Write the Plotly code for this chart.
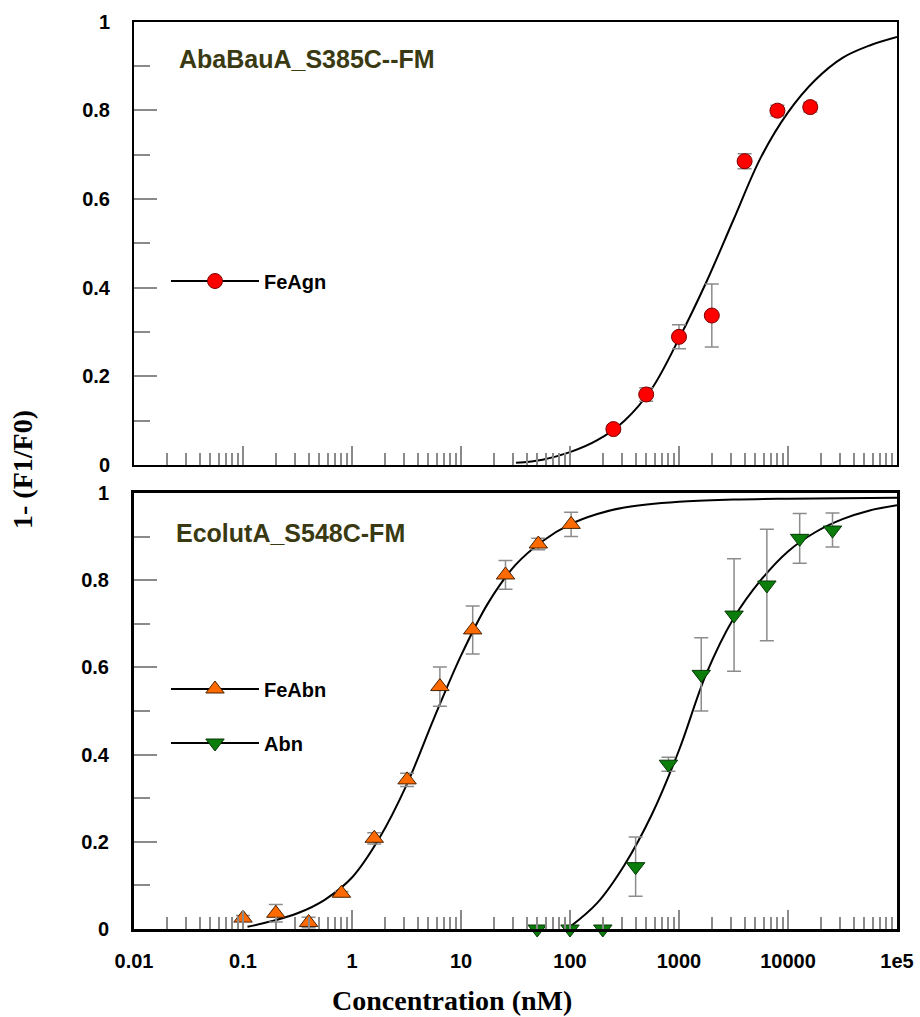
import plotly.graph_objects as go

# ---- FeAgn binding to AbaBauA_S385C--FM (upper panel) ----
agn_conc = [250, 500, 1000, 2000, 4000, 8000, 16000]
agn_resp = [0.081, 0.159, 0.289, 0.337, 0.685, 0.799, 0.807]
agn_err = [0.008, 0.015, 0.027, 0.071, 0.017, 0.012, 0.011]
agn_fit_x = [32, 56, 100, 178, 316, 562, 1000, 1778, 3162, 5623, 10000, 17783,
             31623, 56234, 100000]
agn_fit_y = [0.005, 0.012, 0.029, 0.056, 0.100, 0.172, 0.285, 0.412, 0.553,
             0.693, 0.795, 0.868, 0.918, 0.946, 0.965]

# ---- FeAbn / Abn binding to EcolutA_S548C-FM (lower panel) ----
abn_fe_conc = [0.1, 0.2, 0.4, 0.8, 1.6, 3.2, 6.4, 12.8, 25.6, 51.2, 102.4]
abn_fe_resp = [0.025, 0.036, 0.015, 0.082, 0.208, 0.342, 0.556, 0.686, 0.812, 0.883, 0.928]
abn_fe_err = [0.006, 0.020, 0.012, 0.004, 0.013, 0.015, 0.045, 0.055, 0.033, 0.013, 0.028]
abn_fe_fit_x = [0.11, 0.178, 0.316, 0.562, 1, 1.778, 3.162, 5.623, 10, 17.78,
                31.62, 56.23, 100, 178, 316, 1000, 3162, 10000, 100000]
abn_fe_fit_y = [0.005, 0.017, 0.036, 0.067, 0.118, 0.208, 0.330, 0.482, 0.627,
                0.748, 0.835, 0.890, 0.928, 0.952, 0.967, 0.980, 0.985, 0.987, 0.989]

abn_conc = [50, 100, 200, 400, 800, 1600, 3200, 6400, 12800, 25600]
abn_resp = [0.0, 0.0, 0.0, 0.143, 0.378, 0.584, 0.720, 0.789, 0.896, 0.915]
abn_err = [0, 0, 0, 0.068, 0.016, 0.084, 0.129, 0.128, 0.057, 0.039]
abn_fit_x = [100, 178, 316, 562, 1000, 1778, 3162, 5623, 10000, 17783, 31623,
             56234, 100000]
abn_fit_y = [0.005, 0.060, 0.147, 0.262, 0.410, 0.585, 0.712, 0.800, 0.866,
             0.910, 0.940, 0.960, 0.972]

x_tick_vals = [0.01, 0.1, 1, 10, 100, 1000, 10000, 100000]
x_tick_text = ["0.01", "0.1", "1", "10", "100", "1000", "10000", "1e5"]
y_tick_vals = [0, 0.2, 0.4, 0.6, 0.8, 1]
y_tick_text = ["0", "0.2", "0.4", "0.6", "0.8", "1"]

W, H = 920, 1017


def px_x(p):
    return p / W


def px_y(p):
    return 1 - p / H


SANS = "Liberation Sans, Arial, sans-serif"
SERIF = "Liberation Serif, Times New Roman, serif"
TICK_GRAY = "#8a8a8a"
ERR_GRAY = "#8c8c8c"

minor_x = [m * 10 ** e for e in range(-2, 5) for m in range(2, 10)]
minor_y = [0.1, 0.3, 0.5, 0.7, 0.9]

fig = go.Figure()


def err(vals):
    return dict(type="data", array=vals, visible=True, color=ERR_GRAY,
                thickness=1.5, width=7)


FIT_LINE = dict(color="black", width=2, shape="spline", smoothing=1.0)
RED_DOT = dict(symbol="circle", size=15, color="#ff0000",
               line=dict(color="#7a0000", width=1))
ORANGE_TRI = dict(symbol="triangle-up", size=16, color="#ff6a00",
                  line=dict(color="#4a2200", width=1))
GREEN_TRI = dict(symbol="triangle-down", size=16, color="#0a7d0a",
                 line=dict(color="#063806", width=1))

# upper panel
fig.add_trace(go.Scatter(x=agn_fit_x, y=agn_fit_y, mode="lines", line=FIT_LINE,
                         xaxis="x", yaxis="y", showlegend=False, hoverinfo="skip"))
fig.add_trace(go.Scatter(x=agn_conc, y=agn_resp, mode="markers", error_y=err(agn_err),
                         marker=RED_DOT, xaxis="x", yaxis="y", showlegend=False,
                         cliponaxis=False))
fig.add_trace(go.Scatter(x=[None], y=[None], mode="lines+markers", name="FeAgn",
                         line=dict(color="black", width=2), marker=RED_DOT,
                         xaxis="x", yaxis="y", legend="legend"))

# lower panel
fig.add_trace(go.Scatter(x=abn_fe_fit_x, y=abn_fe_fit_y, mode="lines", line=FIT_LINE,
                         xaxis="x2", yaxis="y2", showlegend=False, hoverinfo="skip"))
fig.add_trace(go.Scatter(x=abn_fit_x, y=abn_fit_y, mode="lines", line=FIT_LINE,
                         xaxis="x2", yaxis="y2", showlegend=False, hoverinfo="skip"))
fig.add_trace(go.Scatter(x=abn_fe_conc, y=abn_fe_resp, mode="markers", error_y=err(abn_fe_err),
                         marker=ORANGE_TRI, xaxis="x2", yaxis="y2", showlegend=False,
                         cliponaxis=False))
fig.add_trace(go.Scatter(x=abn_conc, y=abn_resp, mode="markers", error_y=err(abn_err),
                         marker=GREEN_TRI, xaxis="x2", yaxis="y2", showlegend=False,
                         cliponaxis=False))
fig.add_trace(go.Scatter(x=[None], y=[None], mode="lines+markers", name="FeAbn",
                         line=dict(color="black", width=2), legendgroup="a",
                         marker=ORANGE_TRI, xaxis="x2", yaxis="y2", legend="legend2"))
fig.add_trace(go.Scatter(x=[None], y=[None], mode="lines+markers", name="Abn",
                         line=dict(color="black", width=2), legendgroup="b",
                         marker=GREEN_TRI, xaxis="x2", yaxis="y2", legend="legend2"))


def xaxis(domain_y_anchor, show_labels, lw):
    return dict(type="log", range=[-2, 5], domain=[px_x(134), px_x(897)],
                anchor=domain_y_anchor, showgrid=False, zeroline=False, automargin=False,
                showline=True, mirror=True, linecolor="black", linewidth=lw,
                tickmode="array", tickvals=x_tick_vals, ticktext=x_tick_text,
                ticks="inside", ticklen=19, tickwidth=1.5, tickcolor=TICK_GRAY,
                minor=dict(tickmode="array", tickvals=minor_x, ticks="inside",
                           ticklen=12, tickwidth=1.5, tickcolor=TICK_GRAY, showgrid=False),
                showticklabels=show_labels, ticklabelstandoff=12,
                tickfont=dict(family=SANS, size=20, color="black", weight="bold"))


def yaxis(domain, anchor, lw):
    return dict(range=[0, 1], domain=domain, anchor=anchor, showgrid=False,
                zeroline=False, automargin=False, showline=True, mirror=True,
                linecolor="black",
                linewidth=lw, tickmode="array", tickvals=y_tick_vals,
                ticktext=y_tick_text, ticks="inside", ticklen=23, tickwidth=1.5,
                tickcolor=TICK_GRAY,
                minor=dict(tickmode="array", tickvals=minor_y, ticks="inside",
                           ticklen=16, tickwidth=1.5, tickcolor=TICK_GRAY, showgrid=False),
                ticklabelstandoff=18,
                tickfont=dict(family=SANS, size=20, color="black", weight="bold"))


legend_font = dict(family=SANS, size=20, color="black", weight="bold")

fig.update_layout(
    width=W, height=H, margin=dict(l=0, r=0, t=0, b=0, autoexpand=False),
    paper_bgcolor="white", plot_bgcolor="white",
    xaxis=xaxis("y", False, 2),
    yaxis=yaxis([px_y(465), px_y(21.5)], "x", 2),
    xaxis2=xaxis("y2", True, 3),
    yaxis2=yaxis([px_y(929), px_y(493)], "x2", 3),
    legend=dict(x=px_x(166), y=px_y(281), xanchor="left", yanchor="middle",
                bgcolor="rgba(0,0,0,0)", font=legend_font, itemwidth=88),
    legend2=dict(x=px_x(166), y=px_y(716), xanchor="left", yanchor="middle",
                 bgcolor="rgba(0,0,0,0)", font=legend_font, itemwidth=88,
                 tracegroupgap=25),
    annotations=[
        dict(text="AbaBauA_S385C--FM", x=px_x(177), y=px_y(59), xref="paper", yref="paper",
             xanchor="left", yanchor="middle", showarrow=False,
             font=dict(family=SANS, size=25, color="#3a3a12", weight="bold")),
        dict(text="EcolutA_S548C-FM", x=px_x(174), y=px_y(533), xref="paper", yref="paper",
             xanchor="left", yanchor="middle", showarrow=False,
             font=dict(family=SANS, size=25, color="#3a3a12", weight="bold")),
        dict(text="1- (F1/F0)", x=px_x(22), y=px_y(470), xref="paper", yref="paper",
             xanchor="center", yanchor="middle", showarrow=False, textangle=-90,
             font=dict(family=SERIF, size=28, color="black", weight="bold")),
        dict(text="Concentration (nM)", x=px_x(452), y=px_y(1000), xref="paper", yref="paper",
             xanchor="center", yanchor="middle", showarrow=False,
             font=dict(family=SERIF, size=28, color="black", weight="bold")),
    ],
)

fig.write_html("out.html")
